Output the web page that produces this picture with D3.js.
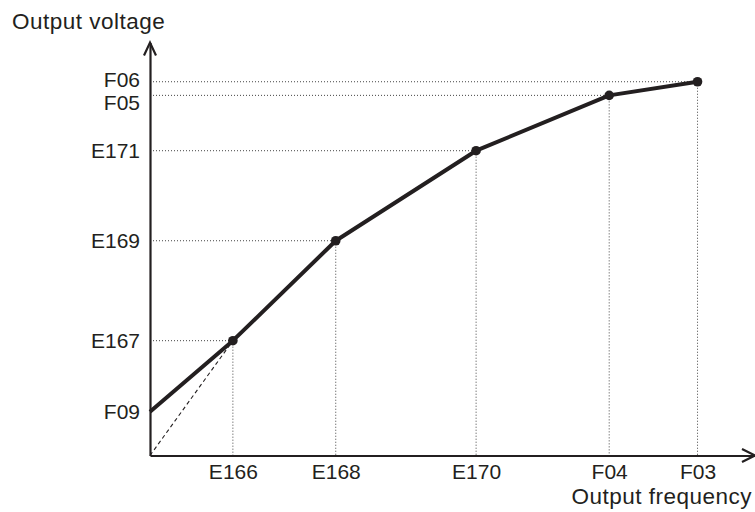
<!DOCTYPE html>
<html>
<head>
<meta charset="utf-8">
<script src="https://cdn.jsdelivr.net/npm/d3@7"></script>
<style>
  html, body { margin: 0; padding: 0; background: #fff; }
  svg { display: block; font-family: "Liberation Sans", Arial, Helvetica, sans-serif; }
</style>
</head>
<body>
<svg id="chart" width="755" height="512"></svg>
<script>
// ---- data (relative units) ----
const freqLabels = ["E166", "E168", "E170", "F04", "F03"];
const freqValues = [13.7, 30.7, 53.9, 75.9, 90.5];
const voltLabels = ["E167", "E169", "E171", "F05", "F06"];
const voltValues = [27.8, 52.0, 73.8, 87.2, 90.5];
const startLabel = "F09";
const startVoltage = 10.6;
const xTitle = "Output frequency";
const yTitle = "Output voltage";

// ---- layout ----
const ink = "#231f20";
const svg = d3.select("#chart");

const x = d3.scaleLinear().domain([0, 100]).range([150, 755]);
const y = d3.scaleLinear().domain([0, 100]).range([455.5, 42.5]);

const pts = freqValues.map((f, i) => ({ f, v: voltValues[i] }));

// guide lines (dotted)
const guides = svg.append("g").attr("stroke", "#444").attr("stroke-width", 1)
  .attr("stroke-dasharray", "1,2").attr("fill", "none");
pts.forEach(p => {
  guides.append("line")
    .attr("x1", x(0)).attr("x2", x(p.f))
    .attr("y1", y(p.v)).attr("y2", y(p.v));
  guides.append("line")
    .attr("x1", x(p.f)).attr("x2", x(p.f))
    .attr("y1", y(p.v)).attr("y2", y(0));
});

// dashed extension line from origin
svg.append("line")
  .attr("x1", x(0)).attr("y1", y(0))
  .attr("x2", x(pts[0].f)).attr("y2", y(pts[0].v))
  .attr("stroke", ink).attr("stroke-width", 1.1)
  .attr("stroke-dasharray", "4,3");

// axes
const xAxis = d3.axisBottom(x)
  .tickValues(freqValues)
  .tickFormat((d, i) => freqLabels[i])
  .tickSize(0).tickPadding(8.5);
const gx = svg.append("g").attr("transform", `translate(0,${y(0)})`).call(xAxis);

const yTickVals = [startVoltage].concat(voltValues);
const yTickLabs = [startLabel].concat(voltLabels);
const yAxis = d3.axisLeft(y)
  .tickValues(yTickVals)
  .tickFormat((d, i) => yTickLabs[i])
  .tickSize(0).tickPadding(10);
const gy = svg.append("g").attr("transform", `translate(${x(0)},0)`).call(yAxis);

[gx, gy].forEach(g => {
  g.select(".domain").attr("stroke", ink).attr("stroke-width", 2.2);
  g.selectAll("text").attr("fill", ink).attr("font-size", 21)
    .attr("font-family", "Liberation Sans, Arial, sans-serif");
});

// avoid overlap of close y labels (spread them apart around their values)
const yTexts = gy.selectAll(".tick").nodes()
  .map(n => ({ n, py: y(d3.select(n).datum()) }))
  .sort((a, b) => a.py - b.py);
let prev = -Infinity;
yTexts.forEach((t, i) => {
  let target = t.py;
  const next = yTexts[i + 1];
  if (next && next.py - t.py < 22) target = t.py - 1.5;
  target = Math.max(target, prev + 22.5);
  d3.select(t.n).select("text").attr("y", target - t.py);
  prev = target;
});

// arrowheads
const arrow = svg.append("g").attr("stroke", ink).attr("stroke-width", 2.2)
  .attr("fill", "none").attr("stroke-linejoin", "miter");
arrow.append("path").attr("d", d3.line()([
  [x(0) - 6, y(100) + 13],
  [x(0), y(100)],
  [x(0) + 6, y(100) + 13]
]));
arrow.append("path").attr("d", d3.line()([
  [x(100) - 13, y(0) - 6.5],
  [x(100), y(0)],
  [x(100) - 13, y(0) + 6.5]
]));

// main line
const lineData = [{ f: 0, v: startVoltage }].concat(pts);
svg.append("path").datum(lineData)
  .attr("d", d3.line().x(d => x(d.f)).y(d => y(d.v)))
  .attr("fill", "none").attr("stroke", ink).attr("stroke-width", 4)
  .attr("stroke-linejoin", "round");

svg.selectAll("circle.pt").data(pts).enter().append("circle")
  .attr("class", "pt")
  .attr("cx", d => x(d.f)).attr("cy", d => y(d.v)).attr("r", 4.8)
  .attr("fill", ink);

// titles
svg.append("text").attr("x", 12).attr("y", 29)
  .attr("font-size", 22.5).attr("letter-spacing", 0.5).attr("fill", ink).text(yTitle);
svg.append("text").attr("x", 752).attr("y", 503.5)
  .attr("text-anchor", "end")
  .attr("font-size", 22.5).attr("letter-spacing", 0.5).attr("fill", ink).text(xTitle);
</script>
</body>
</html>
